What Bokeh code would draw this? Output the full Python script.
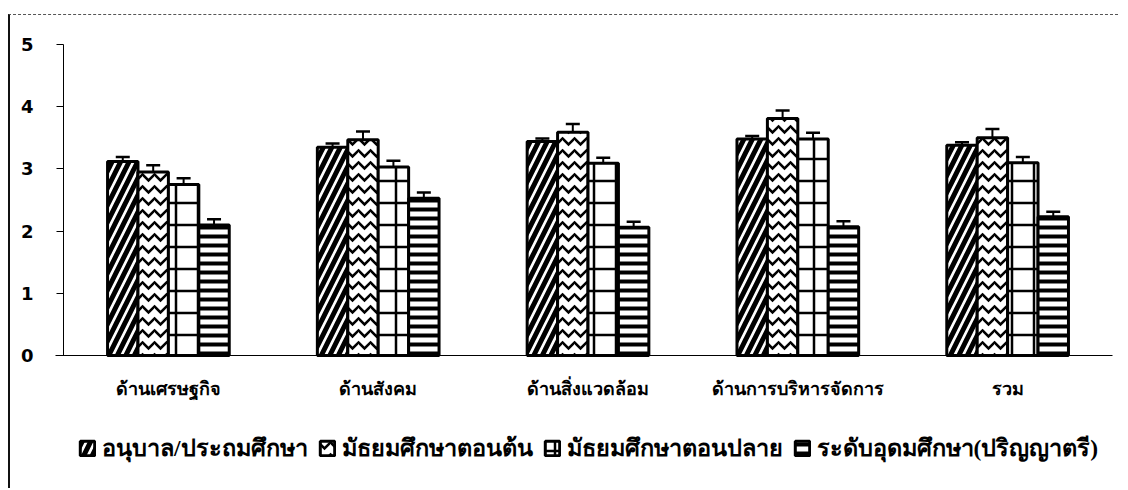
from bokeh.plotting import figure
from bokeh.models import Range1d, Whisker, TeeHead, ColumnDataSource, Legend, LegendItem, FixedTicker
from bokeh.embed import file_html
from bokeh.resources import INLINE

categories = ["ด้านเศรษฐกิจ", "ด้านสังคม", "ด้านสิ่งแวดล้อม", "ด้านการบริหารจัดการ", "รวม"]
series_names = ["อนุบาล/ประถมศึกษา", "มัธยมศึกษาตอนต้น", "มัธยมศึกษาตอนปลาย", "ระดับอุดมศึกษา(ปริญญาตรี)"]
kindergarten_primary = [3.12, 3.35, 3.44, 3.48, 3.38]
lower_secondary = [2.95, 3.47, 3.59, 3.81, 3.50]
upper_secondary = [2.75, 3.03, 3.09, 3.48, 3.10]
bachelor = [2.10, 2.53, 2.06, 2.07, 2.23]
err_kp = [0.07, 0.06, 0.05, 0.05, 0.05]
err_ls = [0.11, 0.13, 0.13, 0.13, 0.14]
err_us = [0.10, 0.10, 0.09, 0.10, 0.09]
err_ba = [0.09, 0.09, 0.09, 0.09, 0.08]
y_ticks = [0, 1, 2, 3, 4, 5]

values = [kindergarten_primary, lower_secondary, upper_secondary, bachelor]
errors = [err_kp, err_ls, err_us, err_ba]
hatches = [
    dict(hatch_pattern="right_diagonal_line", hatch_scale=17, hatch_weight=5),
    dict(hatch_pattern="horizontal_wave", hatch_scale=12, hatch_weight=2.5),
    dict(hatch_pattern="cross", hatch_scale=22, hatch_weight=2.5),
    dict(hatch_pattern="horizontal_line", hatch_scale=9, hatch_weight=4),
]

THAI = "Tahoma"
positions = list(range(len(categories)))

p = figure(
    x_range=Range1d(-0.7526, len(categories) - 0.5 + 0.038),
    y_range=Range1d(-2.154, 5.466),
    width=1110, height=474,
    output_backend="svg", toolbar_location=None,
    min_border_left=0, min_border_right=0, min_border_top=0, min_border_bottom=0,
)
p.styles = {"border-left": "2px solid #111", "border-top": "1px dashed #555",
            "margin-left": "8px", "margin-top": "14px"}
p.outline_line_color = None
p.xgrid.visible = False
p.ygrid.visible = False
p.background_fill_color = "white"

bw = 0.145
offsets = [-1.5 * bw, -0.5 * bw, 0.5 * bw, 1.5 * bw]
items = []
for i in range(4):
    xs = [c + offsets[i] for c in positions]
    src = ColumnDataSource(dict(x=xs, top=values[i],
                                up=[v + e for v, e in zip(values[i], errors[i])]))
    r = p.vbar(x="x", top="top", width=bw, source=src,
               fill_color="white", line_color="black", line_width=3,
               hatch_color="black", **hatches[i])
    w = Whisker(base="x", lower="top", upper="up",
                source=src, line_color="black", line_width=2,
                upper_head=TeeHead(size=14, line_width=2.5, line_color="black"),
                lower_head=None)
    p.add_layout(w)
    items.append(LegendItem(label=series_names[i], renderers=[r]))

yax = p.yaxis[0]
yax.fixed_location = -0.5
yax.bounds = (0, 5)
yax.ticker = FixedTicker(ticks=y_ticks)
yax.major_label_text_font = "DejaVu Sans"
yax.major_label_text_font_style = "bold"
yax.major_label_text_font_size = "18px"
yax.major_label_text_color = "black"
yax.major_tick_in = 0
yax.major_tick_out = 7
yax.minor_tick_line_color = None
yax.axis_line_color = "black"
yax.major_label_standoff = 23

xax = p.xaxis[0]
xax.fixed_location = 0
xax.bounds = (-0.54, len(categories) - 0.5)
xax.ticker = FixedTicker(ticks=positions)
xax.major_label_overrides = {i: c for i, c in zip(positions, categories)}
xax.major_tick_line_color = None
xax.minor_tick_line_color = None
xax.axis_line_color = "black"
xax.axis_line_width = 1
xax.major_label_text_font = THAI
xax.major_label_text_font_style = "bold"
xax.major_label_text_font_size = "18px"
xax.major_label_text_color = "black"
xax.major_label_standoff = 17

legend = Legend(items=items, orientation="horizontal", location=(68, 23), nrows=1,
                label_text_font=THAI, label_text_font_style="bold",
                label_text_font_size="23.5px", label_text_color="black",
                glyph_width=18, glyph_height=18, spacing=10, label_standoff=6,
                border_line_color=None, background_fill_alpha=0,
                margin=0, padding=2)
p.add_layout(legend, "center")

open("out.html", "w").write(file_html(p, INLINE))
